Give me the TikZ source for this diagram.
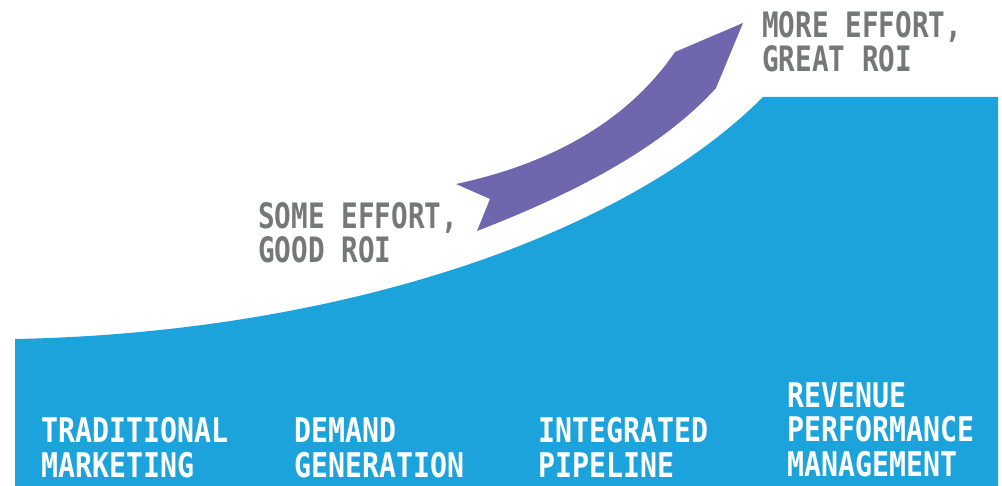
\documentclass[tikz,border=0pt]{standalone}
\usepackage{fontspec}
\newfontfamily\labfont[FakeStretch=0.83]{DejaVu Sans Mono}
\newfontfamily\notefont[FakeStretch=0.79]{DejaVu Sans Mono}
\usetikzlibrary{positioning}
\definecolor{areablue}{RGB}{29,163,220}
\definecolor{arrowpurple}{RGB}{111,103,173}
\definecolor{notegray}{RGB}{118,120,120}

\begin{document}
\begin{tikzpicture}[x=1pt,y=-1pt,
 note/.style={anchor=base west,inner sep=0pt,align=left,text=notegray,
   font=\notefont\bfseries\fontsize{35}{34}\selectfont},
 stage/.style={anchor=base west,inner sep=0pt,align=left,text=white,
   font=\labfont\bfseries\fontsize{34}{34.5}\selectfont}]
\useasboundingbox (0,0) rectangle (1002,486);
% rising area
\fill[areablue] (15,486) -- (15,339) .. controls (330,333) and (620,240) .. (763,97)
  -- (998,97) -- (998,486) -- cycle;
% curved arrow
\fill[arrowpurple] (456,184) .. controls (545,165) and (625,125) .. (675,52)
  -- (743,23) -- (716,88) .. controls (660,150) and (570,195) .. (477,231)
  -- (490,199) -- cycle;
% notes (anchored on last line)
\node[note] (great) at (762,72) {MORE EFFORT,\\GREAT ROI};
\node[note] (good) at (258,263) {SOME EFFORT,\\GOOD ROI};
% stages
\node[stage] (trad) at (41,477) {TRADITIONAL\\MARKETING};
\node[stage] (dem) at (294,477) {DEMAND\\GENERATION};
\node[stage] (pipe) at (538,477) {INTEGRATED\\PIPELINE};
\node[stage] (rpm) at (787,476) {REVENUE\\PERFORMANCE\\MANAGEMENT};
\end{tikzpicture}
\end{document}
